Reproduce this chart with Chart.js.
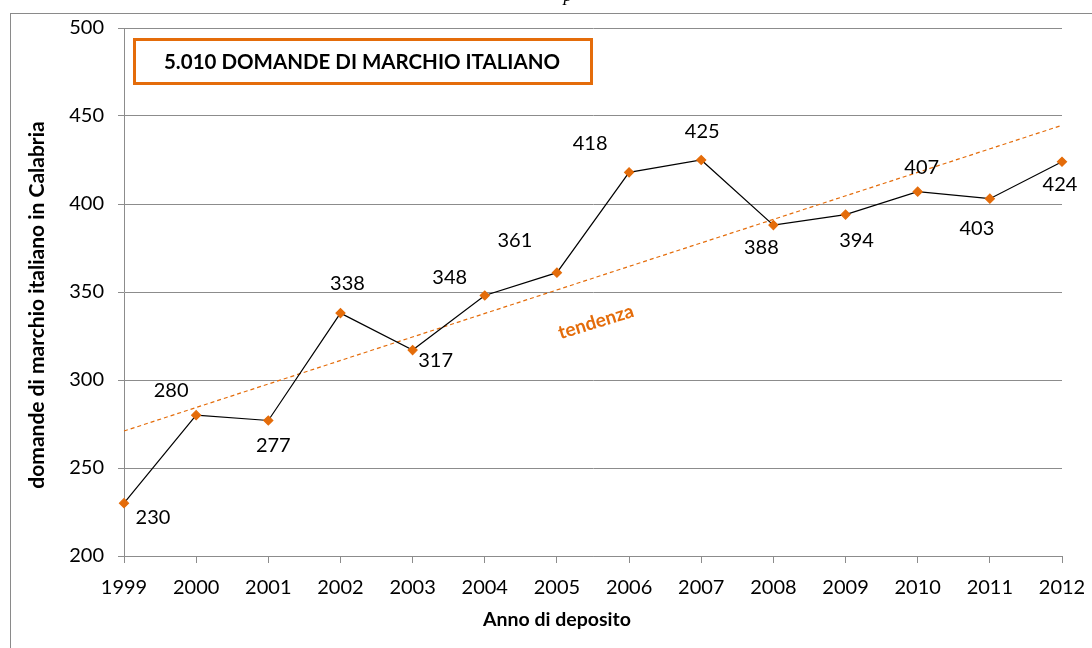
<!DOCTYPE html>
<html>
<head>
<meta charset="utf-8">
<script src="https://cdn.jsdelivr.net/npm/chart.js@4.4.0/dist/chart.umd.min.js"></script>
<style>
  html, body { margin: 0; padding: 0; background: #fff; }
  #wrap { width: 1092px; height: 648px; position: relative; }
</style>
</head>
<body>
<div id="wrap"><canvas id="marchiChart" width="1092" height="648"></canvas></div>
<script>
// Data
const years = ['1999', '2000', '2001', '2002', '2003', '2004', '2005',
  '2006', '2007', '2008', '2009', '2010', '2011', '2012'];
const domande = [230, 280, 277, 338, 317, 348, 361, 418, 425, 388, 394, 407, 403, 424];
// trend line end values (first and last year)
const trendYears = ['1999', '2012'];
const trendValues = [271, 444.7];
const yTicks = [200, 250, 300, 350, 400, 450, 500];

// label offsets from each point, in pixels
const labelOffsets = [
  [29, 14], [-25, -25], [5, 25], [7, -30], [23, 10], [-35, -18], [-42, -32],
  [-39, -29], [1, -28], [-12, 22], [11, 26], [4, -24], [-13, 30], [-2, 23]
];

const ORANGE = '#E46C0A';
const GRID = '#8C8C8C';
const FONT = 'Lato, "Open Sans", sans-serif';

// Draws frame, title box, axis titles, "tendenza" and the point labels
const decorations = {
  id: 'decorations',
  beforeDraw(chart) {
    const {ctx} = chart;
    ctx.save();
    ctx.fillStyle = '#fff';
    ctx.fillRect(0, 0, chart.width, chart.height);
    ctx.strokeStyle = '#8A8A8A';
    ctx.lineWidth = 1;
    ctx.strokeRect(10.5, 13.5, 1200, 800);
    // cut off caption letter at the very top
    ctx.fillStyle = '#000';
    ctx.font = 'italic 18px "Liberation Serif", serif';
    ctx.textAlign = 'center';
    ctx.textBaseline = 'alphabetic';
    ctx.fillText('p', 568, 1);
    ctx.restore();
  },
  afterDatasetsDraw(chart) {
    const {ctx} = chart;
    const meta = chart.getDatasetMeta(0);
    ctx.save();
    ctx.fillStyle = '#000';
    ctx.font = '20px ' + FONT;
    ctx.textAlign = 'center';
    ctx.textBaseline = 'middle';
    meta.data.forEach((pt, i) => {
      const [dx, dy] = labelOffsets[i];
      ctx.fillText(String(domande[i]), pt.x + dx, pt.y + dy);
    });

    // title box
    ctx.strokeStyle = ORANGE;
    ctx.lineWidth = 3;
    ctx.strokeRect(134.5, 39.5, 457, 44);
    ctx.font = 'bold 20.5px ' + FONT;
    ctx.fillText('5.010 DOMANDE DI MARCHIO ITALIANO', 362, 62);

    // tendenza
    ctx.save();
    ctx.translate(596, 322);
    ctx.rotate(-17 * Math.PI / 180);
    ctx.fillStyle = ORANGE;
    ctx.font = 'bold 19px ' + FONT;
    ctx.fillText('tendenza', 0, 0);
    ctx.restore();

    // axis titles
    ctx.fillStyle = '#000';
    ctx.font = 'bold 19.5px ' + FONT;
    ctx.fillText('Anno di deposito', 557, 620);
    ctx.save();
    ctx.translate(37, 305);
    ctx.rotate(-Math.PI / 2);
    ctx.font = 'bold 21px ' + FONT;
    ctx.fillText('domande di marchio italiano in Calabria', 0, 0);
    ctx.restore();
    ctx.restore();
  }
};

const ctx = document.getElementById('marchiChart').getContext('2d');
new Chart(ctx, {
  type: 'line',
  data: {
    labels: years,
    datasets: [{
      label: 'Domande',
      data: domande,
      borderColor: '#000',
      borderWidth: 1.2,
      pointStyle: 'rectRot',
      pointRadius: 4.5,
      pointBackgroundColor: ORANGE,
      pointBorderColor: ORANGE,
      tension: 0,
      clip: false,
      order: 1
    }, {
      label: 'tendenza',
      data: trendYears.map((y, i) => ({x: y, y: trendValues[i]})),
      borderColor: ORANGE,
      borderWidth: 1.2,
      borderDash: [4, 3],
      pointRadius: 0,
      clip: false,
      order: 2
    }]
  },
  options: {
    responsive: false,
    animation: false,
    devicePixelRatio: 1,
    layout: {padding: {top: 28, right: 30, bottom: 0, left: 0}},
    plugins: {legend: {display: false}, tooltip: {enabled: false}},
    scales: {
      x: {
        grid: {drawOnChartArea: false, color: GRID, tickLength: 7},
        border: {color: GRID, width: 1},
        ticks: {color: '#000', font: {size: 20, family: FONT}, padding: 13,
          maxRotation: 0, autoSkip: false},
        afterFit(scale) {
          scale.height = 92;
          scale.paddingLeft = 0;
          scale.paddingRight = 0;
        }
      },
      y: {
        min: yTicks[0],
        max: yTicks[yTicks.length - 1],
        grid: {color: GRID, tickLength: 6},
        border: {color: GRID, width: 1},
        afterBuildTicks(scale) { scale.ticks = yTicks.map(v => ({value: v})); },
        ticks: {color: '#000', font: {size: 20, family: FONT}, padding: 14},
        afterFit(scale) {
          scale.width = 124;
          scale.paddingTop = 0;
          scale.paddingBottom = 0;
        }
      }
    }
  },
  plugins: [decorations]
});
</script>
</body>
</html>
